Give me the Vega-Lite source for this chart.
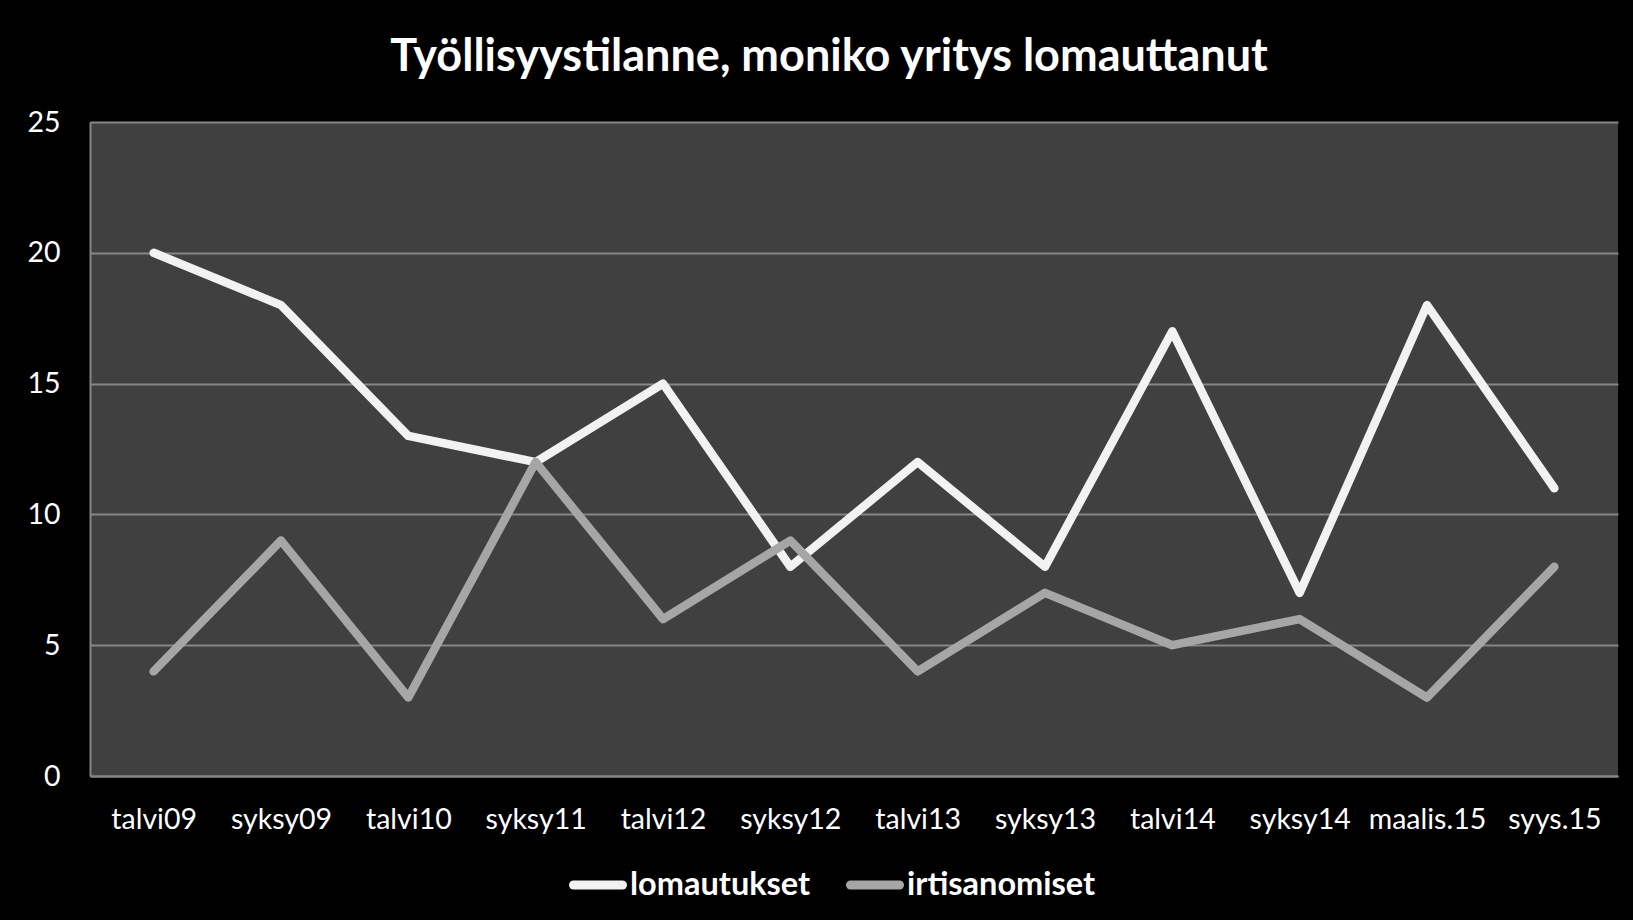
{
  "$schema": "https://vega.github.io/schema/vega-lite/v6.json",
  "width": 1528,
  "height": 654,
  "autosize": {"type": "none"},
  "padding": {"left": 90, "top": 122, "right": 15, "bottom": 144},
  "background": "#000000",
  "title": {
    "text": "Työllisyystilanne, moniko yritys lomauttanut",
    "font": "Lato",
    "fontSize": 45,
    "fontWeight": "bold",
    "color": "#ffffff",
    "baseline": "alphabetic",
    "offset": -8,
    "anchor": "middle",
    "dx": -25
  },
  "config": {
    "view": {"fill": "#404040", "stroke": null},
    "axis": {
      "labelFont": "Lato",
      "labelFontSize": 28.5,
      "labelColor": "#ffffff",
      "ticks": false,
      "tickSize": 0,
      "title": null,
      "domainColor": "#868686",
      "domainWidth": 2,
      "gridColor": "#868686",
      "gridWidth": 2
    }
  },
  "data": {
    "values": [
      {"kausi": "talvi09", "sarja": "lomautukset", "arvo": 20},
      {"kausi": "syksy09", "sarja": "lomautukset", "arvo": 18},
      {"kausi": "talvi10", "sarja": "lomautukset", "arvo": 13},
      {"kausi": "syksy11", "sarja": "lomautukset", "arvo": 12},
      {"kausi": "talvi12", "sarja": "lomautukset", "arvo": 15},
      {"kausi": "syksy12", "sarja": "lomautukset", "arvo": 8},
      {"kausi": "talvi13", "sarja": "lomautukset", "arvo": 12},
      {"kausi": "syksy13", "sarja": "lomautukset", "arvo": 8},
      {"kausi": "talvi14", "sarja": "lomautukset", "arvo": 17},
      {"kausi": "syksy14", "sarja": "lomautukset", "arvo": 7},
      {"kausi": "maalis.15", "sarja": "lomautukset", "arvo": 18},
      {"kausi": "syys.15", "sarja": "lomautukset", "arvo": 11},
      {"kausi": "talvi09", "sarja": "irtisanomiset", "arvo": 4},
      {"kausi": "syksy09", "sarja": "irtisanomiset", "arvo": 9},
      {"kausi": "talvi10", "sarja": "irtisanomiset", "arvo": 3},
      {"kausi": "syksy11", "sarja": "irtisanomiset", "arvo": 12},
      {"kausi": "talvi12", "sarja": "irtisanomiset", "arvo": 6},
      {"kausi": "syksy12", "sarja": "irtisanomiset", "arvo": 9},
      {"kausi": "talvi13", "sarja": "irtisanomiset", "arvo": 4},
      {"kausi": "syksy13", "sarja": "irtisanomiset", "arvo": 7},
      {"kausi": "talvi14", "sarja": "irtisanomiset", "arvo": 5},
      {"kausi": "syksy14", "sarja": "irtisanomiset", "arvo": 6},
      {"kausi": "maalis.15", "sarja": "irtisanomiset", "arvo": 3},
      {"kausi": "syys.15", "sarja": "irtisanomiset", "arvo": 8}
    ]
  },
  "encoding": {
    "x": {
      "field": "kausi",
      "type": "ordinal",
      "sort": null,
      "scale": {"type": "point", "padding": 0.5},
      "axis": {"labelAngle": 0, "labelPadding": 52, "labelBaseline": "alphabetic", "grid": false}
    },
    "y": {
      "field": "arvo",
      "type": "quantitative",
      "scale": {"domain": [0, 25]},
      "axis": {"values": [0, 5, 10, 15, 20, 25], "labelPadding": 30, "grid": true}
    },
    "color": {
      "field": "sarja",
      "type": "nominal",
      "scale": {"domain": ["lomautukset", "irtisanomiset"], "range": ["#f2f2f2", "#a6a6a6"]},
      "legend": {
        "title": null,
        "orient": "none",
        "direction": "horizontal",
        "legendX": 479,
        "legendY": 734,
        "symbolType": "stroke",
        "symbolSize": 2400,
        "symbolStrokeWidth": 9,
        "labelFont": "Lato",
        "labelFontSize": 32.5,
        "labelFontWeight": "bold",
        "labelColor": "#ffffff",
        "labelOffset": 3,
        "columnPadding": 21,
        "padding": 0,
        "labelLimit": 400,
        "encode": {"symbols": {"update": {"strokeCap": {"value": "round"}}}}
      }
    }
  },
  "layer": [
    {
      "transform": [{"filter": "datum.sarja === 'lomautukset'"}],
      "mark": {"type": "line", "strokeWidth": 8.5, "strokeCap": "round", "strokeJoin": "round"}
    },
    {
      "transform": [{"filter": "datum.sarja === 'irtisanomiset'"}],
      "mark": {"type": "line", "strokeWidth": 8.5, "strokeCap": "round", "strokeJoin": "round"}
    }
  ]
}
